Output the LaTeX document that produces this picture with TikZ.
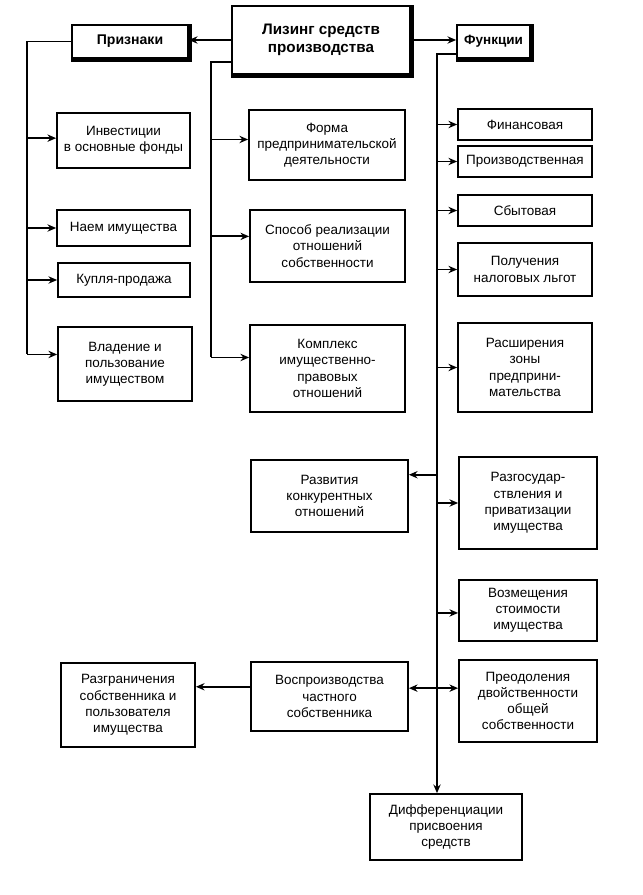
\documentclass[tikz,border=0pt]{standalone}
\usepackage{fontspec}
\setmainfont{Liberation Sans}
\usetikzlibrary{arrows.meta}

\begin{document}
\begin{tikzpicture}[x=0.03cm, y=-0.03cm, every node/.style={font=\fontsize{11.5}{13.8}\selectfont}, >={Stealth[length=2.6mm, width=2.2mm]},
	box/.style={draw, line width=1.5pt, align=center, inner sep=2pt},
	head/.style={box, font=\fontsize{13}{15.5}\selectfont\bfseries},
	boxsize/.style 2 args={minimum width=#1cm, minimum height=#2cm},
	link/.style={line width=1.6pt}]
	\useasboundingbox (0,0) rectangle (642,895);
	\node[head, boxsize={5.34}{2.04}] (lease) at (321,40) {Лизинг средств\\производства};
	\node[head, boxsize={3.48}{0.99}, font=\fontsize{12}{14}\selectfont\bfseries] (signs) at (130,41.5) {Признаки};
	\node[head, boxsize={2.19}{0.99}, font=\fontsize{11.5}{14}\selectfont\bfseries] (funcs) at (493.5,41.5) {Функции};
	\foreach \n in {lease,signs,funcs}
		\draw[line width=2.6pt] ([xshift=1pt]\n.north east) -- ([xshift=1pt, yshift=-1pt]\n.south east) -- ([yshift=-1pt]\n.south west);
	\draw[link, ->] (lease.west) -- (lease.west -| signs.east);
	\draw[link, ->] (lease.east) -- (lease.east -| funcs.west);

	\begin{scope}
		\node[box, boxsize={3.99}{1.65}] (inv) at (123.5,140.5) {Инвестиции\\в основные фонды};
		\node[box, boxsize={3.99}{1.08}] (hire) at (123.5,228) {Наем имущества};
		\node[box, boxsize={3.96}{1.02}] (sale) at (124,280) {Купля-продажа};
		\node[box, boxsize={4.02}{2.22}] (own) at (125,364) {Владение и\\пользование\\имуществом};
		\coordinate (lt) at (27,41);
		\draw[link] (signs.west) -- (signs.west -| lt) -- (lt |- own.172);
		\foreach \n/\a in {inv/178, hire/180, sale/180, own/172}
			\draw[link, ->] (lt |- \n.\a) -- (\n.\a);
	\end{scope}

	\begin{scope}
		\node[box, boxsize={4.68}{2.1}] (form) at (327,145) {Форма\\предпринимательской\\деятельности};
		\node[box, boxsize={4.65}{2.16}] (way) at (327.5,246) {Способ реализации\\отношений\\собственности};
		\node[box, boxsize={4.65}{2.61}] (complex) at (327.5,368.5) {Комплекс\\имущественно-\\правовых\\отношений};
		\coordinate (mt) at (211,62);
		\draw[link] (lease.194) -- (lease.194 -| mt) -- (mt |- complex.172);
		\foreach \n/\a in {form/176, way/173, complex/172}
			\draw[link, ->] (mt |- \n.\a) -- (\n.\a);
	\end{scope}

	\begin{scope}
		\node[box, boxsize={4.02}{0.93}] (fin) at (525,124.5) {Финансовая};
		\node[box, boxsize={4.02}{0.93}] (prod) at (525,161.5) {Производственная};
		\node[box, boxsize={4.02}{0.93}] (sales) at (525,210.5) {Сбытовая};
		\node[box, boxsize={4.02}{1.59}] (tax) at (525,269.5) {Получения\\налоговых льгот};
		\node[box, boxsize={4.02}{2.67}] (expand) at (525,367.5) {Расширения\\зоны\\предприни-\\мательства};
		\node[box, boxsize={4.14}{2.76}] (priv) at (528,503) {Разгосудар-\\ствления и\\приватизации\\имущества};
		\node[box, boxsize={4.14}{1.83}] (refund) at (528,610.5) {Возмещения\\стоимости\\имущества};
		\node[box, boxsize={4.14}{2.46}] (overcome) at (528,701) {Преодоления\\двойственности\\общей\\собственности};
		\node[box, boxsize={4.71}{2.16}] (compet) at (329.5,496) {Развития\\конкурентных\\отношений};
		\node[box, boxsize={4.71}{2.07}] (repro) at (329.5,696.5) {Воспроизводства\\частного\\собственника};
		\node[box, boxsize={4.02}{2.52}] (split) at (128,705) {Разграничения\\собственника и\\пользователя\\имущества};
		\node[box, boxsize={4.56}{1.98}] (diff) at (446,827) {Дифференциации\\присвоения\\средств};
		\coordinate (rt) at (437,54);
		\draw[link, ->] (funcs.199) -- (funcs.199 -| rt) -- (rt |- diff.north);
		\foreach \n/\a in {fin/180, prod/180, sales/180, tax/180, expand/180, priv/180, refund/182}
			\draw[link, ->] (rt |- \n.\a) -- (\n.\a);
		\draw[link, ->] (rt |- compet.15) -- (compet.15);
		\draw[link, <->] (repro.6) -- (repro.6 -| overcome.west);
		\draw[link, ->] (repro.173) -- (repro.173 -| split.east);
	\end{scope}
\end{tikzpicture}
\end{document}
